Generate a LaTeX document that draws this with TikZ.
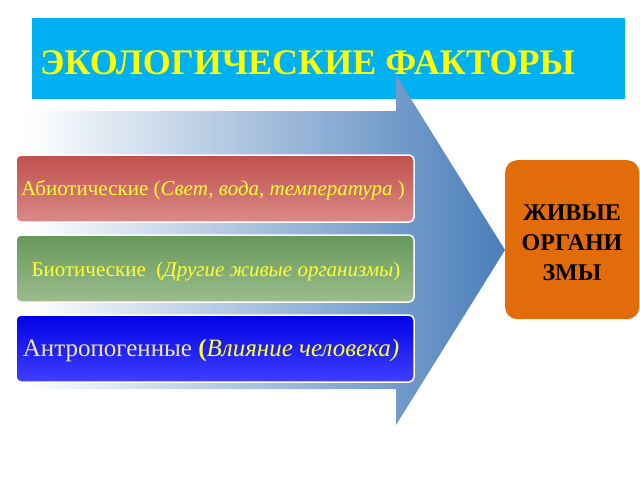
\documentclass[tikz,border=0pt]{standalone}
\usepackage{fontspec}
\setmainfont{Liberation Serif}
\usetikzlibrary{shadings}
\definecolor{titlecyan}{HTML}{00B0F0}
\definecolor{titleyellow}{HTML}{FFFF00}
\definecolor{arrowblue}{HTML}{4A7EBB}
\definecolor{redtop}{HTML}{C0504D}
\definecolor{redbot}{HTML}{DA8A88}
\definecolor{greentop}{HTML}{66985A}
\definecolor{greenbot}{HTML}{9CBD8C}
\definecolor{bluetop}{HTML}{0000E6}
\definecolor{bluebot}{HTML}{4040FF}
\definecolor{orangebox}{HTML}{E36C0A}
\definecolor{txtyellow}{HTML}{FFFF33}
\definecolor{paleyellow}{HTML}{F2E6A6}
\tikzset{
  factor/.style={draw=white, line width=1.5pt, rounded corners=5pt},
  factortext/.style={text=txtyellow, font=\fontsize{21}{23}\selectfont, anchor=center, inner sep=0pt},
}
\begin{document}
\begin{tikzpicture}[x=1pt,y=-1pt]
\useasboundingbox (0,0) rectangle (640,480);
\fill[white] (0,0) rectangle (640,480);
% title
\fill[titlecyan] (32,18) rectangle (625,99);
\node[anchor=base west, inner sep=0pt, text=titleyellow, font=\bfseries\fontsize{36}{38}\selectfont] (title) at (40,74) {ЭКОЛОГИЧЕСКИЕ ФАКТОРЫ};
% arrow
\shade[left color=white, right color=arrowblue, shading angle=90]
  (25,111) -- (396,111) -- (396,75) -- (505,250) -- (396,425) -- (396,389) -- (25,389) -- cycle;
% boxes
\shade[factor, top color=redtop, bottom color=redbot] (16,155) rectangle (414,222);
\node[factortext] (abio) at (213,190) {Абиотические (\textit{Свет, вода, температура} )};
\shade[factor, top color=greentop, bottom color=greenbot] (16,235) rectangle (414,302);
\node[factortext] (bio) at (216,271) {Биотические \ (\textit{Другие живые организмы})};
\shade[factor, top color=bluetop, bottom color=bluebot] (16,315) rectangle (414,382);
\node[factortext, font=\fontsize{25}{27}\selectfont] (anthro) at (211,350) {\textcolor{paleyellow}{Антропогенные} \textbf{(}\textit{Влияние человека)}};
% organisms
\node[fill=orangebox, rounded corners=12pt, minimum width=134pt, minimum height=159pt, inner sep=0pt, anchor=north west] (org) at (505,160) {};
\node[align=center, font=\bfseries\fontsize{24}{30}\selectfont, text=black] (orgtext) at (572,243) {ЖИВЫЕ\\ОРГАНИ\\ЗМЫ};
\end{tikzpicture}
\end{document}
